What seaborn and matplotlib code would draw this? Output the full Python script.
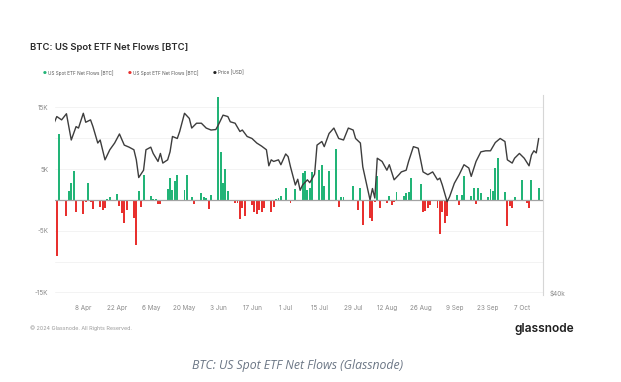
import numpy as np
import pandas as pd
import matplotlib
matplotlib.use("Agg")
import matplotlib.pyplot as plt
import matplotlib.dates as mdates
import seaborn as sns

# ---------------- data ----------------
flow_dates = [
    "03-27", "03-28", "03-29",
    "04-01", "04-02", "04-03", "04-04", "04-05",
    "04-08", "04-09", "04-10", "04-11", "04-12",
    "04-15", "04-16", "04-17", "04-18", "04-19",
    "04-22", "04-23", "04-24", "04-25", "04-26",
    "04-29", "04-30", "05-01", "05-02", "05-03",
    "05-06", "05-07", "05-08", "05-09", "05-10",
    "05-13", "05-14", "05-15", "05-16", "05-17",
    "05-20", "05-21", "05-23", "05-24",
    "05-27", "05-28", "05-29", "05-30", "05-31",
    "06-03", "06-04", "06-05", "06-06", "06-07",
    "06-10", "06-11", "06-12", "06-13", "06-14",
    "06-17", "06-18", "06-19", "06-20", "06-21", "06-22",
    "06-25", "06-26", "06-27", "06-28", "06-29",
    "07-01", "07-02", "07-03", "07-05",
    "07-08", "07-09", "07-10", "07-11", "07-12",
    "07-15", "07-16", "07-17", "07-19",
    "07-22", "07-23", "07-24", "07-25",
    "07-29", "07-31", "08-01", "08-02",
    "08-05", "08-06", "08-07", "08-08", "08-09",
    "08-12", "08-13", "08-14", "08-15", "08-16",
    "08-19", "08-20", "08-21", "08-22",
    "08-26", "08-27", "08-28", "08-29", "08-30",
    "09-02", "09-03", "09-04", "09-05", "09-06",
    "09-10", "09-11", "09-12", "09-13",
    "09-16", "09-17", "09-18", "09-19", "09-20",
    "09-23", "09-24", "09-25", "09-26", "09-27",
    "09-30", "10-01", "10-02", "10-03", "10-04",
    "10-07", "10-09", "10-10", "10-11",
    "10-14",
]
flow_btc = [
    -400, -9100, 10750,
    -2700, 1450, 2800, 4700, -1900,
    -2250, -400, 2700, -400, -1500,
    -1100, -1600, -1350, 200, 400,
    1000, -1000, -2200, -3800, -1600,
    -3000, -7250, 1450, -1100, 4100,
    650, 100, 200, -650, -750,
    1800, 3500, 1600, 3100, 4000,
    1600, 4000, 400, -700,
    1100, 400, 300, -1450, 800,
    16700, 7800, 2800, 4950, 1500,
    -550, -500, -3100, -1350, -2700,
    -800, -1900, -2250, -1600, -2000, -1350,
    -1900, -1100, 100, 300, 550,
    1900, -200, -550, 1700,
    4300, 4600, 1600, 1900, 4500,
    4800, 5600, 2300, 4700,
    8300, -1100, 450, 450,
    2300, -1600, 2000, -4000,
    -3000, -3400, -300, 3800, -1300,
    -500, 700, -900, -400, 1200,
    550, 1100, 1300, 3500,
    2600, -1900, -1800, -1300, -800,
    -1350, -5500, -1900, -3800, -2600,
    800, -800, 800, 3900,
    550, 2000, -650, 2000, 1100,
    400, 1800, 1500, 5100, 6800,
    1200, -4300, -1000, -1350, 400,
    3200, -550, -1350, 3200,
    2000,
]

price_dates = [
    "03-27", "03-28", "03-30", "04-01", "04-03", "04-05", "04-06", "04-08",
    "04-09", "04-11", "04-12", "04-14", "04-15", "04-17", "04-19", "04-21",
    "04-23", "04-25", "04-27", "04-29", "04-30", "05-01", "05-03", "05-04",
    "05-06", "05-07", "05-09", "05-10", "05-11", "05-13", "05-14", "05-15",
    "05-17", "05-18", "05-20", "05-22", "05-23", "05-25", "05-27", "05-29",
    "05-31", "06-02", "06-03", "06-05", "06-07", "06-08", "06-10", "06-12",
    "06-13", "06-15", "06-17", "06-19", "06-21", "06-23", "06-24", "06-25",
    "06-26", "06-28", "06-29", "07-01", "07-02", "07-03", "07-05", "07-06",
    "07-07", "07-08", "07-10", "07-11", "07-13", "07-14", "07-16", "07-17",
    "07-19", "07-21", "07-23", "07-25", "07-27", "07-29", "07-30", "08-01",
    "08-02", "08-05", "08-06", "08-07", "08-08", "08-10", "08-12", "08-13",
    "08-15", "08-17", "08-18", "08-20", "08-21", "08-23", "08-25", "08-26",
    "08-27", "08-29", "08-31", "09-02", "09-03", "09-04", "09-06", "09-07",
    "09-09", "09-11", "09-13", "09-15", "09-16", "09-18", "09-20", "09-22",
    "09-24", "09-25", "09-26", "09-28", "09-30", "10-01", "10-03", "10-04",
    "10-06", "10-08", "10-10", "10-11", "10-12", "10-13", "10-14",
]
price_usd = [
    67600, 68800, 68100, 69400, 64000, 66700, 66400, 69500,
    67600, 68100, 66700, 63400, 64000, 60200, 62100, 63400,
    65200, 63000, 62600, 62100, 60200, 57000, 58300, 62100,
    62600, 61400, 59900, 61400, 59600, 60200, 61700, 64700,
    64300, 65700, 69500, 68400, 66400, 67400, 67400, 66400,
    66000, 66100, 67000, 69100, 68800, 67700, 67400, 65700,
    66000, 64700, 64300, 63400, 62800, 62100, 59100, 60200,
    59900, 60200, 59300, 61300, 60800, 58900, 55700, 56700,
    54800, 55700, 56600, 56100, 57600, 63000, 63700, 62700,
    65300, 66400, 64300, 64000, 66400, 66000, 64300, 63400,
    58900, 53200, 55100, 53500, 60500, 59900, 58300, 59300,
    56600, 57500, 58000, 58300, 59900, 62700, 62400, 60200,
    58000, 57500, 58000, 56600, 56900, 55700, 52900, 53700,
    56000, 57500, 59300, 58700, 57200, 59900, 61700, 61900,
    61900, 62700, 63500, 64300, 63700, 60200, 59600, 60500,
    61400, 60500, 59100, 61100, 61900, 61500, 64300,
]

tick_dates = ["04-08", "04-22", "05-06", "05-20", "06-03", "06-17", "07-01",
              "07-15", "07-29", "08-12", "08-26", "09-09", "09-23", "10-07"]
tick_labels = ["8 Apr", "22 Apr", "6 May", "20 May", "3 Jun", "17 Jun", "1 Jul",
               "15 Jul", "29 Jul", "12 Aug", "26 Aug", "9 Sep", "23 Sep", "7 Oct"]
flow_ticks = [-15000, -5000, 5000, 15000]
flow_tick_labels = ["-15K", "-5K", "5K", "15K"]

GREEN = "#22b477"
RED = "#e8302e"
LINE = "#3d3d3d"

# ---------------- figure ----------------
sns.set_theme(style="white")
plt.rcParams["font.family"] = ["Inter", "DejaVu Sans"]

W, H = 621, 382
fig = plt.figure(figsize=(W / 100, H / 100), dpi=100)
fig.patch.set_facecolor("white")

def fx(px):
    return px / W

def fy(py):
    return 1 - py / H

ax_left, ax_right, ax_top, ax_bot = 55, 543, 94.7, 295
ax = fig.add_axes([fx(ax_left), fy(ax_bot), fx(ax_right - ax_left), (ax_bot - ax_top) / H])

df = pd.DataFrame({
    "date": pd.to_datetime(["2024-" + d for d in flow_dates]),
    "flow": flow_btc,
})
df["x"] = mdates.date2num(df["date"])
df["sign"] = np.where(df["flow"] >= 0, "in", "out")

sns.barplot(data=df, x="x", y="flow", hue="sign", palette={"in": GREEN, "out": RED},
            native_scale=True, dodge=False, width=0.8, legend=False,
            errorbar=None, saturation=1, linewidth=0, edgecolor="none",
            ax=ax, zorder=3)
for p in ax.patches:
    p.set_antialiased(False)

x0 = mdates.date2num(pd.Timestamp("2024-03-27 06:00"))
x1 = mdates.date2num(pd.Timestamp("2024-10-15 19:00"))
ax.set_xlim(x0, x1)
ax.set_ylim(-15430, 17050)

ax.axhline(0, color="#a3a3a3", lw=0.9, zorder=4)
for v in [-15000, -10000, -5000, 5000, 10000, 15000]:
    ax.axhline(v, color="#f3f3f3", lw=0.7, zorder=0)

ax.set_yticks(flow_ticks)
ax.set_yticklabels(flow_tick_labels)
tick_x = mdates.date2num(pd.to_datetime(["2024-" + d for d in tick_dates]))
ax.set_xticks(tick_x)
ax.set_xticklabels(tick_labels)
ax.tick_params(axis="both", length=0, labelsize=4.6, colors="#8a8a8a")
ax.tick_params(axis="x", pad=7)
ax.tick_params(axis="y", pad=4.8)
ax.set_xlabel("")
ax.set_ylabel("")
for s in ax.spines.values():
    s.set_visible(False)
ax.grid(False)

# price on log axis
ax2 = ax.twinx()
pdf = pd.DataFrame({
    "date": pd.to_datetime(["2024-" + d for d in price_dates]),
    "price": price_usd,
})
pdf["x"] = mdates.date2num(pdf["date"])
sns.lineplot(data=pdf, x="x", y="price", color=LINE, lw=1.0, ax=ax2, zorder=5)
ax2.set_yscale("log")
ax2.set_ylim(39670, 73600)
ax2.set_xlim(x0, x1)
ax2.yaxis.set_minor_locator(matplotlib.ticker.NullLocator())
ax2.set_yticks([40000])
ax2.set_yticklabels(["$40k"])
ax2.tick_params(axis="y", length=0, labelsize=4.6, colors="#8a8a8a", pad=5)
ax2.set_ylabel("")
ax2.set_xlabel("")
for k, s in ax2.spines.items():
    s.set_visible(k == "right")
ax2.spines["right"].set_color("#d6d6d6")
ax2.spines["right"].set_linewidth(0.8)
ax2.grid(False)

# title / legend / footer
fig.text(fx(30), fy(47), "BTC: US Spot ETF Net Flows [BTC]", fontsize=6.8,
         fontweight="semibold", color="#2b2b2b", va="center", ha="left")

leg_items = [(45, GREEN, "US Spot ETF Net Flows [BTC]"),
             (130, RED, "US Spot ETF Net Flows [BTC]"),
             (215, "#222222", "Price [USD]")]
for px, col, lab in leg_items:
    fig.text(fx(px), fy(73), "●", fontsize=3.2, color=col, va="center", ha="center",
             family=["DejaVu Sans"])
    fig.text(fx(px + 3), fy(73), lab, fontsize=3.4, color="#555555", va="center", ha="left")

fig.text(fx(30), fy(328), "© 2024 Glassnode. All Rights Reserved.", fontsize=3.9,
         color="#9a9a9a", va="center", ha="left")
fig.text(fx(574), fy(329), "glassnode", fontsize=8.6, fontweight="semibold",
         color="#1f1f1f", va="center", ha="right")
fig.text(fx(298), fy(366), "BTC: US Spot ETF Net Flows (Glassnode)", fontsize=8.8,
         style="italic", color="#6b7685", va="center", ha="center",
         family=["Open Sans", "DejaVu Sans"])

fig.savefig("out.png", dpi=100, facecolor="white")
